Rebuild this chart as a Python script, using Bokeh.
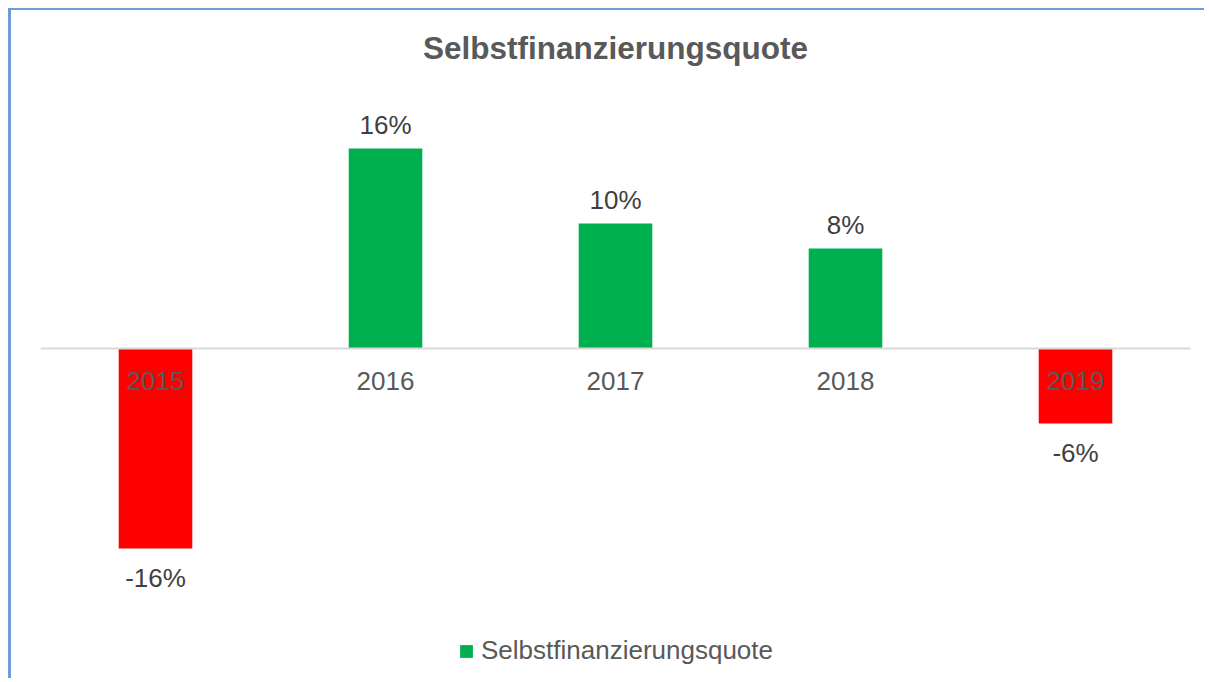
from bokeh.plotting import figure
from bokeh.models import ColumnDataSource, Span, Legend, LegendItem, Range1d, FactorRange
from bokeh.embed import file_html
from bokeh.resources import INLINE
from bokeh.core.properties import value

# ---- data ----
years = ["2015", "2016", "2017", "2018", "2019"]
quote = [-16, 16, 10, 8, -6]
quote_labels = ["-16%", "16%", "10%", "8%", "-6%"]
series_name = "Selbstfinanzierungsquote"
chart_title = "Selbstfinanzierungsquote"

POS_COLOR = "#00B050"
NEG_COLOR = "#FF0000"
FONT = "Liberation Sans"

colors = [NEG_COLOR if v < 0 else POS_COLOR for v in quote]
label_offsets = [29 if v < 0 else -24 for v in quote]
source = ColumnDataSource(dict(year=years, quote=quote, label=quote_labels,
                               color=colors, loff=label_offsets,
                               zero=[0] * len(years)))

W, H = 1196, 670
TOP = 72
px_per_unit = 12.5
frame_h = H - TOP
zero_from_bottom = 332
y0 = -zero_from_bottom / px_per_unit
y1 = y0 + frame_h / px_per_unit

p = figure(width=W, height=H, output_backend="svg", toolbar_location=None,
           x_range=FactorRange(factors=years, range_padding=0),
           y_range=Range1d(y0, y1),
           x_axis_location=None, y_axis_location=None,
           min_border_left=29, min_border_right=17, min_border_top=TOP,
           min_border_bottom=0, title=chart_title)
p.outline_line_color = None
p.xgrid.visible = False
p.ygrid.visible = False
p.background_fill_color = "white"
p.border_fill_color = "white"
p.styles = {"margin-left": "8px", "margin-top": "8px",
            "border-left": "3px solid #6f9bd6", "border-top": "2px solid #6f9bd6"}

p.title.align = "center"
p.title.text_font = FONT
p.title.text_font_size = "31.5px"
p.title.text_font_style = "bold"
p.title.text_color = "#595959"
p.title.standoff = 34

bars = p.vbar(x="year", top="quote", width=0.32, source=source,
              fill_color="color", line_color=None)

p.add_layout(Span(location=0, dimension="width", line_color="#d9d9d9", line_width=2))

# category labels at zero line
p.text(x="year", y="zero", text="year", source=source, text_font=value(FONT),
       text_font_size="26px", text_color="#595959", text_align="center",
       text_baseline="middle", y_offset=32)

# value labels
p.text(x="year", y="quote", text="label", source=source, text_font=value(FONT),
       text_font_size="26px", text_color="#404040", text_align="center",
       text_baseline="middle", y_offset="loff")

legend = Legend(items=[LegendItem(label=series_name, renderers=[bars], index=1)],
                location=(418, 14))
legend.border_line_color = None
legend.background_fill_alpha = 0
legend.padding = 0
legend.margin = 0
legend.glyph_width = 16
legend.glyph_height = 16
legend.label_standoff = 7
legend.label_text_font = FONT
legend.label_text_font_size = "26px"
legend.label_text_color = "#595959"
legend.label_height = 26
p.add_layout(legend, "center")

open("out.html", "w").write(file_html(p, INLINE))
